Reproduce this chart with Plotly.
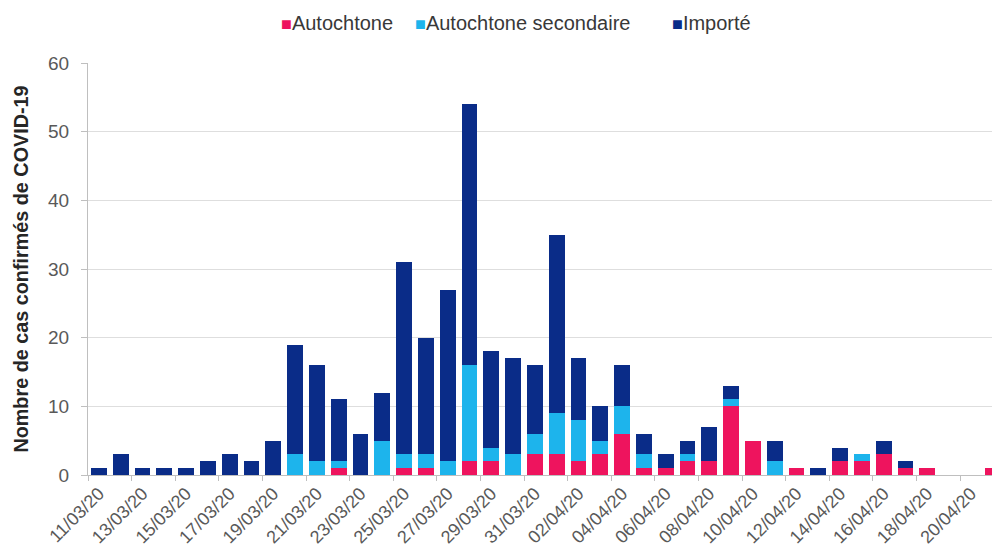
import plotly.graph_objects as go

dates = ["11/03/20", "12/03/20", "13/03/20", "14/03/20", "15/03/20", "16/03/20", "17/03/20",
         "18/03/20", "19/03/20", "20/03/20", "21/03/20", "22/03/20", "23/03/20", "24/03/20",
         "25/03/20", "26/03/20", "27/03/20", "28/03/20", "29/03/20", "30/03/20", "31/03/20",
         "01/04/20", "02/04/20", "03/04/20", "04/04/20", "05/04/20", "06/04/20", "07/04/20",
         "08/04/20", "09/04/20", "10/04/20", "11/04/20", "12/04/20", "13/04/20", "14/04/20",
         "15/04/20", "16/04/20", "17/04/20", "18/04/20", "19/04/20", "20/04/20", "21/04/20"]

autochtone = [0, 0, 0, 0, 0, 0, 0, 0, 0, 0, 0, 1, 0, 0,
              1, 1, 0, 2, 2, 0, 3, 3, 2, 3, 6, 1, 1, 2,
              2, 10, 5, 0, 1, 0, 2, 2, 3, 1, 1, 0, 0, 1]
secondaire = [0, 0, 0, 0, 0, 0, 0, 0, 0, 3, 2, 1, 0, 5,
              2, 2, 2, 14, 2, 3, 3, 6, 6, 2, 4, 2, 0, 1,
              0, 1, 0, 2, 0, 0, 0, 1, 0, 0, 0, 0, 0, 0]
importe = [1, 3, 1, 1, 1, 2, 3, 2, 5, 16, 14, 9, 6, 7,
           28, 17, 25, 38, 14, 14, 10, 26, 9, 5, 6, 3, 2, 2,
           5, 2, 0, 3, 0, 1, 2, 0, 2, 1, 0, 0, 0, 0]

series_names = ["Autochtone", "Autochtone secondaire", "Importé"]
series_colors = ["#EE145E", "#1DB4EC", "#0A2C88"]
y_ticks = [0, 10, 20, 30, 40, 50, 60]

idx = list(range(len(dates)))
font_family = "Liberation Sans, Arial, sans-serif"

# page body has an 8px margin: figure coordinates are offset by 8px
ML, MT, MB = 80, 55, 86
PW = 1000 - ML
PH = 553 - MT - MB

fig = go.Figure()
for name, vals, col in zip(series_names, [autochtone, secondaire, importe], series_colors):
    fig.add_trace(go.Bar(x=idx, y=vals, name=name, marker_color=col,
                         marker_line_width=0, showlegend=False))

# legend drawn as text items (coloured square + label)
legend_x = [271, 405, 662]
for name, col, px in zip(series_names, series_colors, legend_x):
    fig.add_annotation(
        xref="paper", yref="paper",
        x=(px - ML) / PW, y=(PH + MT - 15) / PH,
        xanchor="left", yanchor="middle", showarrow=False,
        text=f'<span style="color:{col};font-size:18px">■</span>{name}',
        font=dict(family=font_family, size=20, color="#383838"),
    )

fig.update_layout(
    barmode="stack",
    bargap=0.27,
    width=1000,
    height=553,
    margin=dict(l=ML, r=0, t=MT, b=MB),
    plot_bgcolor="white",
    paper_bgcolor="white",
    font=dict(family=font_family, size=19, color="#595959"),
    showlegend=False,
    xaxis=dict(
        automargin=False,
        range=[-0.5, 41.7],
        tickmode="array",
        tickvals=idx[::2],
        ticktext=dates[::2],
        tickangle=-45,
        ticks="",
        showgrid=False,
        showline=True,
        linecolor="#BFBFBF",
        linewidth=1,
        zeroline=False,
        tickfont=dict(size=18, color="#595959"),
        minor=dict(tickmode="array", tickvals=[i - 0.5 for i in idx[::2]],
                   ticks="outside", ticklen=5, tickcolor="#BFBFBF", showgrid=False),
    ),
    yaxis=dict(
        automargin=False,
        range=[0, 60],
        tickmode="array",
        tickvals=y_ticks,
        ticks="outside",
        ticklen=6,
        tickcolor="#BFBFBF",
        ticklabelstandoff=8,
        showgrid=True,
        gridcolor="#DEDEDE",
        showline=True,
        linecolor="#BFBFBF",
        zeroline=False,
        tickfont=dict(size=19, color="#595959"),
        title=dict(text="<b>Nombre de cas confirmés de COVID-19</b>",
                   font=dict(size=19.8, color="#262626"), standoff=14),
    ),
)

fig.write_html("out.html")
